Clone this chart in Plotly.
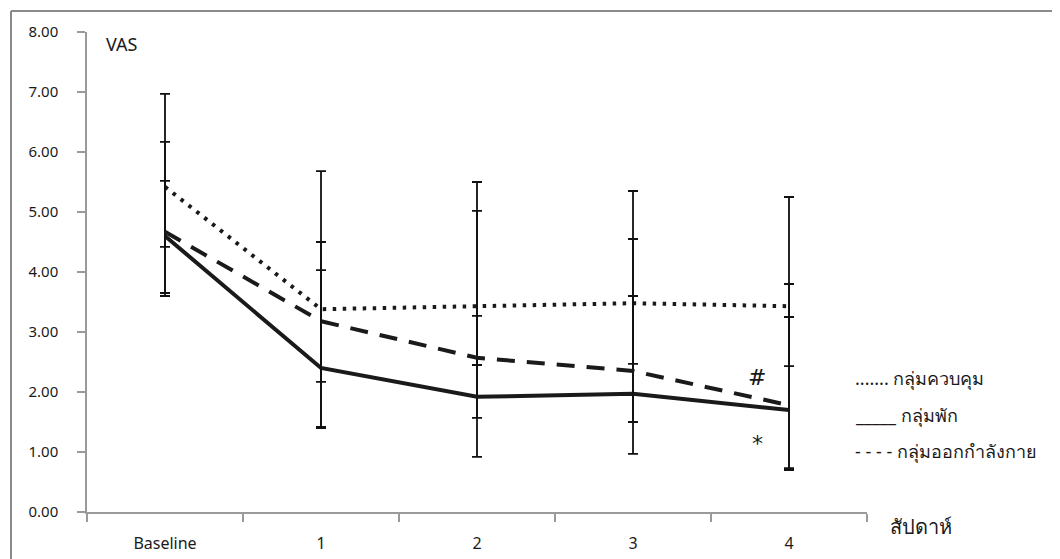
import plotly.graph_objects as go

# ---- data ----
categories = ["Baseline", "1", "2", "3", "4"]
series_names = ["กลุ่มควบคุม", "กลุ่มพัก", "กลุ่มออกกำลังกาย"]

control_mean = [5.42, 3.38, 3.43, 3.48, 3.43]
control_upper = [6.97, 5.68, 5.50, 5.35, 5.25]
control_lower = [3.65, 1.42, 1.57, 2.47, 2.43]

rest_mean = [4.60, 2.40, 1.92, 1.97, 1.70]
rest_upper = [5.52, 4.03, 3.27, 3.60, 3.25]
rest_lower = [3.60, 1.40, 0.92, 1.50, 0.70]

exercise_mean = [4.67, 3.18, 2.57, 2.35, 1.78]
exercise_upper = [6.17, 4.50, 5.02, 4.55, 3.80]
exercise_lower = [4.42, 2.17, 2.45, 0.97, 0.73]

y_ticks = [0, 1, 2, 3, 4, 5, 6, 7, 8]

# ---- layout geometry (pixels) ----
OFF = 8  # page body margin
W, H = 1060, 559
PW, PH = 780, 480
L, T = 87 - OFF, 32 - OFF
R, B = W - L - PW, H - T - PH


def px(x):
    return (x - OFF - L) / PW


def py(y):
    return (T + PH + OFF - y) / PH


def diffs(mean, upper, lower):
    return [u - m for u, m in zip(upper, mean)], [m - l for m, l in zip(mean, lower)]


fig = go.Figure()

styles = [
    (control_mean, control_upper, control_lower, dict(color="#1a1a1a", width=4, dash="3.5px,6.5px")),
    (rest_mean, rest_upper, rest_lower, dict(color="#1a1a1a", width=4, dash="solid")),
    (exercise_mean, exercise_upper, exercise_lower, dict(color="#1a1a1a", width=4, dash="18px,12px")),
]

for name, (m, up, lo, line) in zip(series_names, styles):
    plus, minus = diffs(m, up, lo)
    fig.add_trace(go.Scatter(
        x=categories, y=m, mode="lines", name=name, line=line,
        showlegend=False,
        error_y=dict(type="data", symmetric=False, array=plus, arrayminus=minus,
                     color="#111111", thickness=1.8, width=5),
    ))

font_main = "Tahoma, 'Noto Sans', 'DejaVu Sans', sans-serif"

fig.update_layout(
    width=W, height=H,
    margin=dict(l=L, r=R, t=T, b=B, autoexpand=False),
    paper_bgcolor="white", plot_bgcolor="white",
    font=dict(family=font_main, color="#1a1a1a", size=13),
    xaxis=dict(
        type="category", range=[-0.5, 4.5], tickson="boundaries",
        showline=True, linecolor="#9a9a9a", linewidth=1.5,
        ticks="outside", ticklen=8, tickcolor="#9a9a9a", tickwidth=1.5,
        showgrid=False, zeroline=False, automargin=False,
        tickfont=dict(family="'Liberation Sans Narrow', 'Noto Sans', sans-serif", size=16, color="#1a1a1a"),
        ticklabelstandoff=16,
    ),
    yaxis=dict(
        range=[0, 8], tickvals=y_ticks, tickformat=".2f",
        showline=True, linecolor="#9a9a9a", linewidth=1.5,
        ticks="outside", ticklen=8, tickcolor="#9a9a9a", tickwidth=1.5,
        showgrid=False, zeroline=False, automargin=False,
        tickfont=dict(size=15, color="#1a1a1a"),
        ticklabelstandoff=16,
    ),
)

# border (top and left edges of the frame)
border = dict(color="#8a8a8a", width=2)
fig.add_shape(type="line", xref="paper", yref="paper",
              x0=px(11), x1=px(1070), y0=py(11), y1=py(11), line=border, layer="above")
fig.add_shape(type="line", xref="paper", yref="paper",
              x0=px(11), x1=px(11), y0=py(11), y1=py(570), line=border, layer="above")

ann = []
ann.append(dict(text="VAS", x=px(104), y=py(44), xanchor="left", yanchor="middle",
                font=dict(size=18)))
ann.append(dict(text="สัปดาห์", x=px(888), y=py(526), xanchor="left", yanchor="middle",
                font=dict(size=20)))
# significance marks
ann.append(dict(text="#", xref="x", yref="y", x=3.795, y=2.25, xanchor="center", yanchor="middle",
                font=dict(size=22, family="'DejaVu Serif', serif")))
ann.append(dict(text="*", xref="x", yref="y", x=3.8, y=1.15, xanchor="center", yanchor="middle",
                font=dict(size=22, family="'DejaVu Sans', sans-serif")))
# legend texts
leg_font = dict(size=18)
ann.append(dict(text="....... " + series_names[0], x=px(853), y=py(378), xanchor="left", yanchor="middle",
                font=leg_font))
ann.append(dict(text="_____ " + series_names[1], x=px(853), y=py(415), xanchor="left", yanchor="middle",
                font=leg_font))
ann.append(dict(text="- - - - " + series_names[2], x=px(853), y=py(451), xanchor="left", yanchor="middle",
                font=leg_font))

for a in ann:
    a.setdefault("xref", "paper")
    a.setdefault("yref", "paper")
    a["showarrow"] = False
    fig.add_annotation(**a)

fig.write_html("out.html")
